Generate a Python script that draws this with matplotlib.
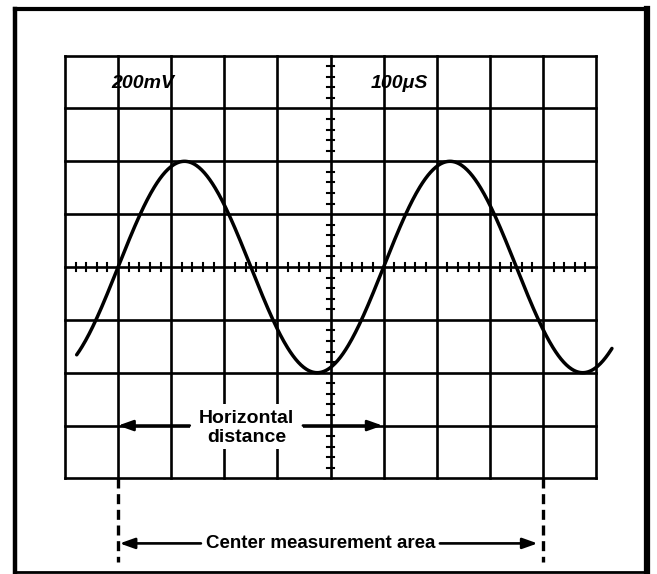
import matplotlib.pyplot as plt
import numpy as np

# graticule: 10 x 8 divisions, 5 minor ticks per division on the centre lines
n_xdiv = 10
n_ydiv = 8
minor_per_div = 5

# trace (in divisions)
amplitude_div = 2.0      # peak height
period_div = 5.0         # one cycle spans 5 divisions
zero_cross_div = 1.0     # rising zero crossing
trace_start = 0.22
trace_end = 10.3

volts_label = "200mV"
time_label = "100μS"
horiz_label = "Horizontal\ndistance"
center_label = "Center measurement area"
marker_cols = [1, 9]
horiz_span = [1, 6]

fig = plt.figure(figsize=(6.57, 5.74), dpi=100)
ax = fig.add_axes([0, 0, 1, 1])
ax.set_xlim(-65 / 53.1, (657 - 65) / 53.1)
ax.set_ylim(-(574 - 267) / 52.85, 267 / 52.85)
ax.axis('off')

half = n_ydiv / 2
lw_grid = 1.9
# grid lines
for i in range(n_xdiv + 1):
    ax.plot([i, i], [-half, half], color='black', lw=lw_grid, solid_capstyle='projecting')
for j in range(n_ydiv + 1):
    y = j - half
    ax.plot([0, n_xdiv], [y, y], color='black', lw=lw_grid, solid_capstyle='projecting')

# minor ticks on centre lines
tk = 0.07
xc = n_xdiv / 2
for k in range(n_xdiv * minor_per_div + 1):
    if k % minor_per_div:
        x = k / minor_per_div
        ax.plot([x, x], [-tk, tk], color='black', lw=1.5)
for k in range(n_ydiv * minor_per_div + 1):
    if k % minor_per_div:
        y = k / minor_per_div - half
        ax.plot([xc - tk, xc + tk], [y, y], color='black', lw=1.5)

# waveform
t = np.linspace(trace_start, trace_end, 600)
v = amplitude_div * np.sin(2 * np.pi * (t - zero_cross_div) / period_div)
ax.plot(t, v, color='black', lw=2.5, solid_capstyle='round', zorder=5)

# scale labels
ax.text(1.46, 3.48, volts_label, fontsize=14, fontweight='bold', fontstyle='italic',
        family='Liberation Sans', ha='center', va='center', zorder=6)
ax.text(6.29, 3.48, time_label, fontsize=14, fontweight='bold', fontstyle='italic',
        family='Liberation Sans', ha='center', va='center', zorder=6)

# dashed markers below the graticule
for c in marker_cols:
    ax.plot([c, c], [-half, -5.58], color='black', lw=2.4, linestyle=(0, (3, 1.7)))

arrow = dict(arrowstyle='-|>,head_length=0.45,head_width=0.16', color='black',
             lw=1.9, shrinkA=0, shrinkB=0, mutation_scale=20)

# horizontal distance
ax.add_patch(plt.Rectangle((2.35, -3.45), 4.48 - 2.35, 0.85, facecolor='white',
                           edgecolor='none', zorder=3))
ax.text(3.42, -3.04, horiz_label, fontsize=14, fontweight='bold', family='Liberation Sans',
        ha='center', va='center', linespacing=1.15, zorder=6)
ax.annotate('', xy=(horiz_span[0], -3.0), xytext=(2.35, -3.0), arrowprops=arrow, zorder=6)
ax.annotate('', xy=(horiz_span[1] - 0.02, -3.0), xytext=(4.48, -3.0), arrowprops=arrow, zorder=6)

# centre measurement area
yc = -5.23
ax.text(4.82, yc, center_label, fontsize=13.5, fontweight='bold', family='Liberation Sans',
        ha='center', va='center', zorder=6)
ax.annotate('', xy=(marker_cols[0] + 0.03, yc), xytext=(2.56, yc), arrowprops=arrow)
ax.annotate('', xy=(marker_cols[1] - 0.1, yc), xytext=(7.06, yc), arrowprops=arrow)

# outer frame (figure pixels)
W, H = 657, 574
def fl(x0, y0, x1, y1, w):
    fig.add_artist(plt.Line2D([x0 / W, x1 / W], [1 - y0 / H, 1 - y1 / H],
                              color='black', lw=w, solid_capstyle='projecting'))
fl(15, 9, 647, 9, 3.0)
fl(15, 9, 15, 572, 3.2)
fl(647, 9, 647, 572, 4.5)
fl(15, 572, 647, 572, 2.0)

fig.savefig('out.png', dpi=100)
